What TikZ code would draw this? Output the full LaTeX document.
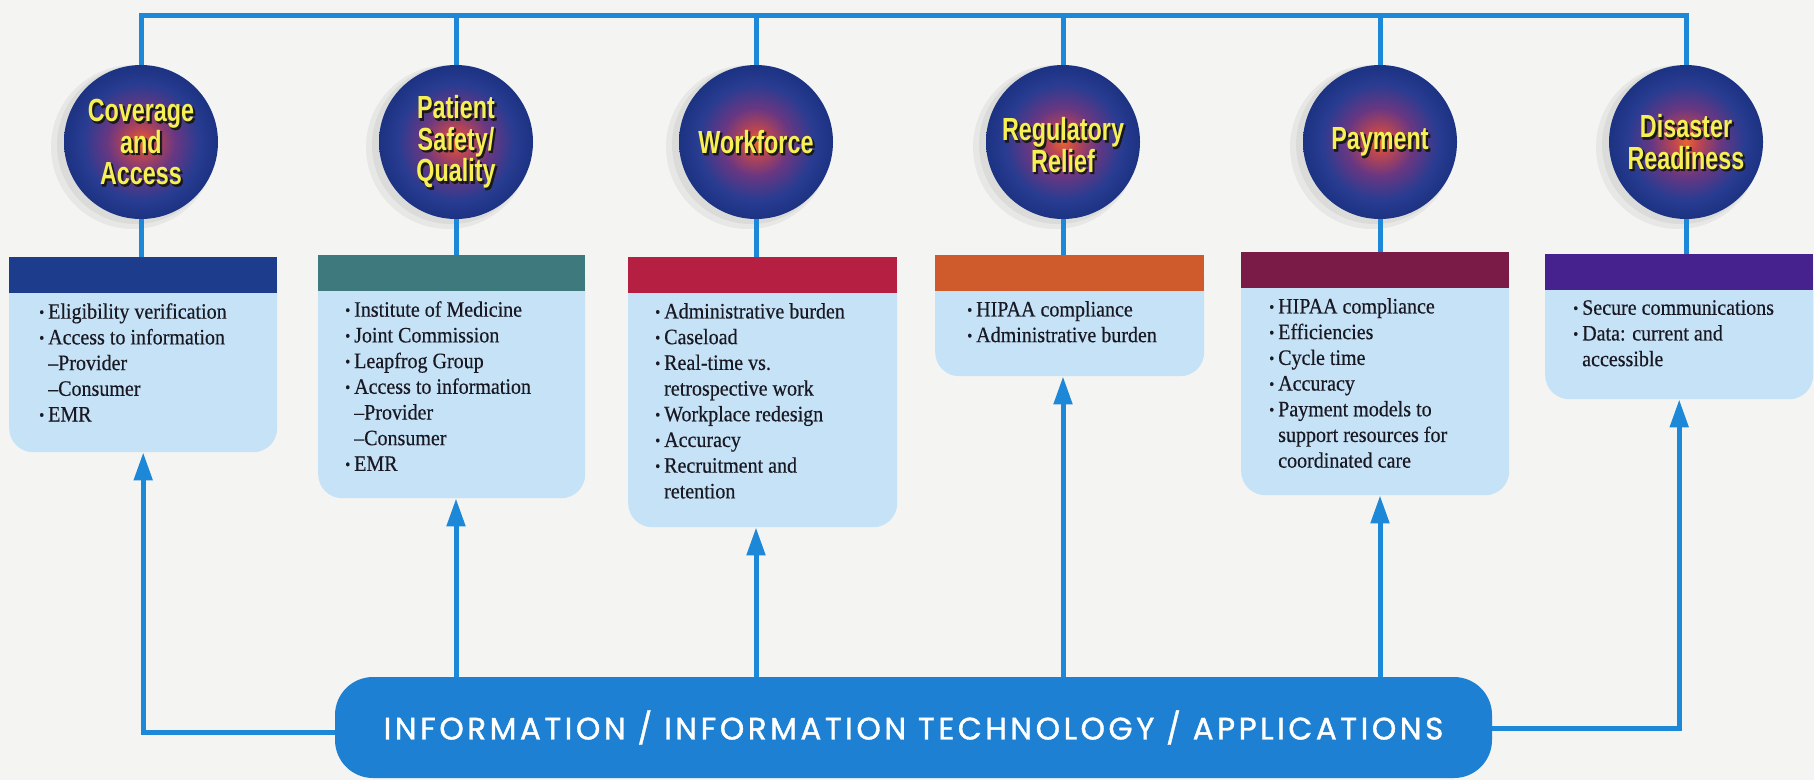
\documentclass[tikz,border=0pt]{standalone}
\usepackage{fontspec}
\setmainfont{Liberation Serif}
\newfontfamily\boxfont[FakeStretch=0.91,FakeBold=0.4]{Liberation Serif}
\newfontfamily\condfont[FakeStretch=0.73]{Liberation Sans}
\newfontfamily\condfontsh[FakeStretch=0.73,FakeBold=2.5]{Liberation Sans}
\newfontfamily\barfont[LetterSpace=11.5,FakeBold=1.2]{Poppins}
\usetikzlibrary{arrows.meta}
\definecolor{bgcol}{RGB}{244,244,242}
\definecolor{lineblue}{RGB}{30,136,216}
\definecolor{barblue}{RGB}{30,128,210}
\definecolor{bodyblue}{RGB}{198,226,246}
\definecolor{hA}{RGB}{29,60,140}
\definecolor{hB}{RGB}{62,122,125}
\definecolor{hC}{RGB}{181,31,66}
\definecolor{hD}{RGB}{207,90,44}
\definecolor{hE}{RGB}{122,26,70}
\definecolor{hF}{RGB}{70,34,142}
\definecolor{titleyellow}{RGB}{246,240,84}
\definecolor{textdark}{RGB}{25,25,35}
\definecolor{orbA}{RGB}{230,100,50}
\definecolor{orbB}{RGB}{190,70,80}
\definecolor{orbC}{RGB}{105,55,130}
\definecolor{orbD}{RGB}{40,60,145}
\definecolor{orbE}{RGB}{28,50,130}
\pgfdeclareradialshading{orb}{\pgfpoint{0bp}{0bp}}{color(0bp)=(orbA); color(4bp)=(orbB); color(11bp)=(orbC); color(19bp)=(orbD); color(25bp)=(orbE); color(50bp)=(orbE)}
\newcommand\bul{\makebox[9pt][l]{\raisebox{1.2pt}{\fontsize{16}{16}\selectfont •}}}
\newcommand\ind{\hspace*{9pt}}
\begin{document}
\begin{tikzpicture}[x=1pt,y=-1pt,
  conn/.style={draw=lineblue, line width=5pt},
  arr/.style={conn, -{Triangle[length=28pt,width=18pt]}},
  orb/.style={circle, minimum size=154pt, inner sep=0pt, shade, shading=orb},
  title/.style={align=center, inner sep=0pt, text=titleyellow, font=\condfont\bfseries\fontsize{32}{31.5}\selectfont},
  tshadow/.style={title, text=black!90, font=\condfontsh\bfseries\fontsize{32}{31.5}\selectfont, xshift=1.6pt, yshift=-1.6pt},
  hdr/.style={rectangle, minimum height=36pt, inner sep=0pt, anchor=north west},
  bodyb/.style={rectangle, rounded corners=24pt, fill=bodyblue, inner sep=0pt, anchor=north west},
  txt/.style={anchor=north west, align=left, inner sep=0pt, text=textdark, font=\boxfont\fontsize{22}{25.7}\selectfont},
  bar/.style={rectangle, rounded corners=38pt, fill=barblue, text=white, minimum width=1157pt, minimum height=101pt, inner sep=0pt, font=\barfont\fontsize{31}{31}\selectfont}
]
\fill[bgcol] (0,0) rectangle (1814,780);
\useasboundingbox (0,0) rectangle (1814,780);

% soft shadows of the orbs
\foreach \x in {141,456,756,1063,1380,1686} {
  \fill[black,opacity=0.05] (\x-8,147) circle (82);
  \fill[black,opacity=0.05] (\x-5,145) circle (79);
}

% orbs
\node[orb] (c1) at (141,142) {};
\node[orb] (c2) at (456,142) {};
\node[orb] (c3) at (756,142) {};
\node[orb] (c4) at (1063,142) {};
\node[orb] (c5) at (1380,142) {};
\node[orb] (c6) at (1686,142) {};

% titles
\node[tshadow] (s1) at (c1) {Coverage\\and\\Access};
\node[title] (t1) at (c1) {Coverage\\and\\Access};
\node[tshadow] (s2) at (c2) {Patient\\Safety/\\Quality};
\node[title] (t2) at (c2) {Patient\\Safety/\\Quality};
\node[tshadow] (s3) at (c3) {Workforce};
\node[title] (t3) at (c3) {Workforce};
\node[tshadow, yshift=-3pt] (s4) at (c4) {Regulatory\\Relief};
\node[title, yshift=-3pt] (t4) at (c4) {Regulatory\\Relief};
\node[tshadow] (s5) at (c5) {Payment};
\node[title] (t5) at (c5) {Payment};
\node[tshadow] (s6) at (c6) {Disaster\\Readiness};
\node[title] (t6) at (c6) {Disaster\\Readiness};

% top connector
\coordinate (top) at (0,15);
\draw[conn] (c1.north) -- (c1.north |- top) -- (c6.north |- top) -- (c6.north);
\foreach \i in {2,...,5} \draw[conn] (c\i.north) -- (c\i.north |- top);

% boxes
\node[bodyb, minimum width=268pt, minimum height=195pt] (b1) at (9,257) {};
\node[hdr, fill=hA, minimum width=268pt] (h1) at (9,257) {};
\node[txt] (x1) at (39,303) {\bul Eligibility verification\\ \bul Access to information\\ \ind –Provider\\ \ind –Consumer\\ \bul EMR};

\node[bodyb, minimum width=267pt, minimum height=243pt] (b2) at (318,255) {};
\node[hdr, fill=hB, minimum width=267pt] (h2) at (318,255) {};
\node[txt] (x2) at (345,301) {\bul Institute of Medicine\\ \bul Joint Commission\\ \bul Leapfrog Group\\ \bul Access to information\\ \ind –Provider\\ \ind –Consumer\\ \bul EMR};

\node[bodyb, minimum width=269pt, minimum height=270pt] (b3) at (628,257) {};
\node[hdr, fill=hC, minimum width=269pt] (h3) at (628,257) {};
\node[txt] (x3) at (655,303) {\bul Administrative burden\\ \bul Caseload\\ \bul Real-time vs.\\ \ind retrospective work\\ \bul Workplace redesign\\ \bul Accuracy\\ \bul Recruitment and\\ \ind retention};

\node[bodyb, minimum width=269pt, minimum height=121pt] (b4) at (935,255) {};
\node[hdr, fill=hD, minimum width=269pt] (h4) at (935,255) {};
\node[txt] (x4) at (967,301) {\bul HIPAA compliance\\ \bul Administrative burden};

\node[bodyb, minimum width=268pt, minimum height=243pt] (b5) at (1241,252) {};
\node[hdr, fill=hE, minimum width=268pt] (h5) at (1241,252) {};
\node[txt] (x5) at (1269,298) {\bul HIPAA compliance\\ \bul Efficiencies\\ \bul Cycle time\\ \bul Accuracy\\ \bul Payment models to\\ \ind support resources for\\ \ind coordinated care};

\node[bodyb, minimum width=268pt, minimum height=145pt] (b6) at (1545,254) {};
\node[hdr, fill=hF, minimum width=268pt] (h6) at (1545,254) {};
\node[txt] (x6) at (1573,300) {\bul Secure communications\\ \bul Data: current and\\ \ind accessible};

% orb to box connectors
\foreach \i in {1,...,6} \draw[conn] (c\i.south) -- (c\i.south |- h\i.north);

% bottom bar and arrows
\draw[arr] (913,732) -| (b1.south);
\draw[arr] (913,728) -| (b6.south);
\foreach \i in {2,...,5} \draw[arr] (c\i |- 700,700) -- (c\i |- b\i.south);
\node[bar] (it) at (913.5,727.5) {INFORMATION / INFORMATION TECHNOLOGY / APPLICATIONS};
\end{tikzpicture}
\end{document}
